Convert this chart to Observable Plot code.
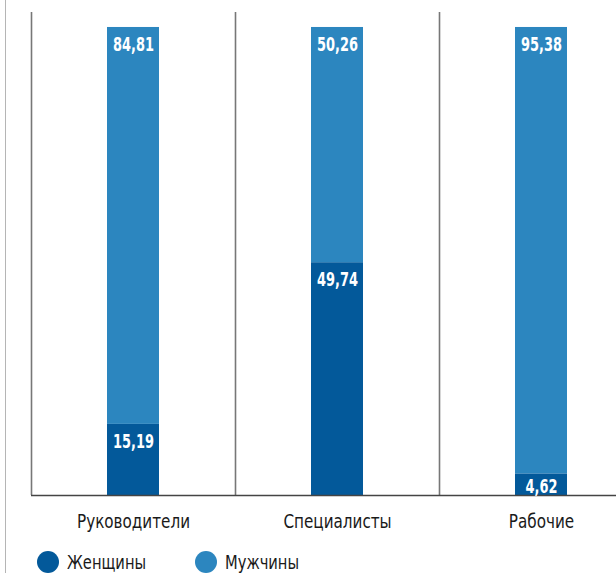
<!DOCTYPE html>
<html><head><meta charset="utf-8">
<script src="https://cdn.jsdelivr.net/npm/d3@7"></script>
<script src="https://cdn.jsdelivr.net/npm/@observablehq/plot@0.6"></script>
<style>
body{margin:0;background:#fff;}
#wrap{position:relative;width:616px;height:573px;overflow:hidden;font-family:"DejaVu Sans Condensed",sans-serif;}
#edge{position:absolute;left:5px;top:0;width:0;height:573px;border-left:1.5px solid #b5b5b5;}
#chart{position:absolute;left:0;top:0;}
#legend{position:absolute;left:0;top:550px;height:23px;font-size:19px;color:#1a1a1a;}
.item{display:flex;align-items:center;position:absolute;top:0;height:23px;white-space:nowrap;}
.sw{width:22px;height:22px;border-radius:50%;margin-right:8px;flex:none;}
.lt{display:inline-block;transform:scaleX(0.86);transform-origin:left center;}
</style></head>
<body>
<div id="wrap"><div id="chart"></div><div id="edge"></div><div id="legend"></div></div>
<script>
const categories = ["Руководители", "Специалисты", "Рабочие"];
const series = ["Женщины", "Мужчины"];
const women = [15.19, 49.74, 4.62];
const men = [84.81, 50.26, 95.38];
const colors = ["#03599a", "#2c86bf"];

const rows = [];
categories.forEach((c, i) => {
  rows.push({category: c, series: series[0], value: women[i]});
  rows.push({category: c, series: series[1], value: men[i]});
});
const fmt = v => v.toFixed(2).replace(".", ",");
const font = '"DejaVu Sans Condensed",sans-serif';

const chart = Plot.plot({
  width: 616, height: 540,
  marginTop: 12, marginBottom: 45, marginLeft: 31, marginRight: 0,
  x: {domain: categories, range: [31, 643], padding: 0, tickSize: 0, tickPadding: 19, label: null},
  y: {domain: [0, 103.2], axis: null},
  color: {domain: series, range: colors},
  style: {fontFamily: font, fontSize: "19px", color: "#1a1a1a", background: "transparent", overflow: "hidden"},
  marks: [
    Plot.barY(rows, {x: "category", y: "value", fill: "series", insetLeft: 76, insetRight: 76}),
    Plot.ruleX(categories, {x: d => d, dx: -102, stroke: "#777", strokeWidth: 1.6}),
    Plot.ruleY([0], {stroke: "#444", strokeWidth: 1.4}),
    Plot.text(rows, Plot.stackY2({
      x: "category", y: "value", z: "series",
      text: d => d.value >= 10 ? fmt(d.value) : "",
      dy: 17, fill: "white", fontWeight: "bold", fontSize: 20, className: "vlab"
    })),
    Plot.text(rows, Plot.stackY({
      x: "category", y: "value", z: "series",
      text: d => d.value < 10 ? fmt(d.value) : "",
      dy: 2, fill: "white", fontWeight: "bold", fontSize: 20, className: "vlab"
    }))
  ]
});
document.getElementById("chart").append(chart);

// condense glyphs to mimic the narrow typeface of the original
d3.select(chart).selectAll("g.vlab text").each(function() {
  const t = this.getAttribute("transform") || "";
  this.setAttribute("transform", t + " scale(0.72,1)");
});
d3.select(chart).selectAll("[aria-label='x-axis tick label'] text").each(function() {
  const t = this.getAttribute("transform") || "";
  this.setAttribute("transform", t + " scale(0.89,1)");
});

const legend = document.getElementById("legend");
const lefts = [37, 195];
series.forEach((s, i) => {
  const it = document.createElement("div");
  it.className = "item";
  it.style.left = lefts[i] + "px";
  it.innerHTML = `<span class="sw" style="background:${colors[i]}"></span><span class="lt">${s}</span>`;
  legend.append(it);
});
</script>
</body></html>
